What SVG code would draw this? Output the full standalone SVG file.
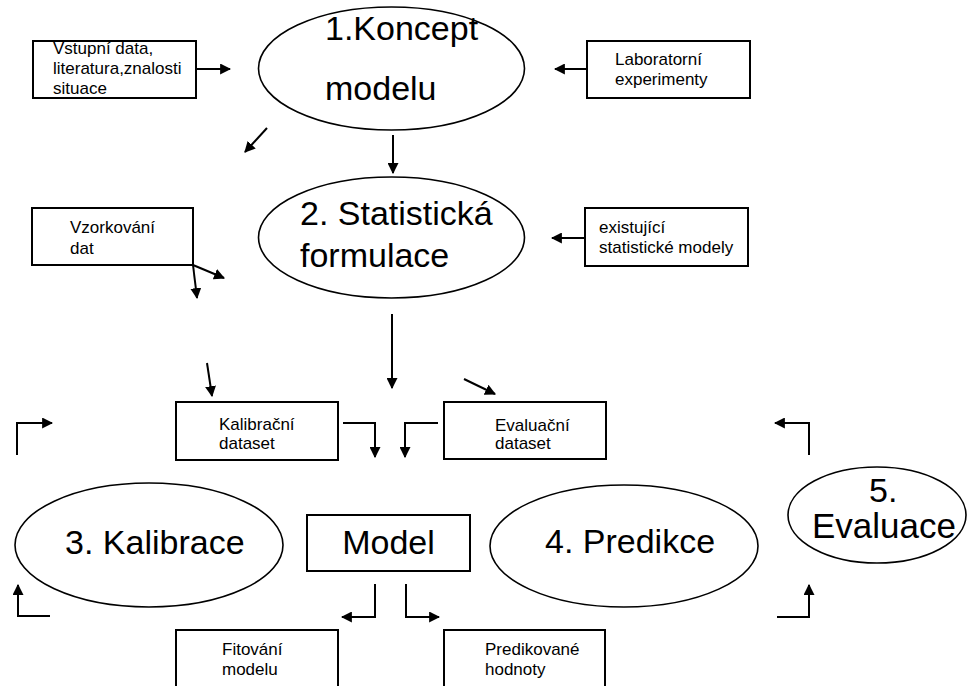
<svg xmlns="http://www.w3.org/2000/svg" width="967" height="686" viewBox="0 0 967 686">
<style>
.box{fill:#fff;stroke:#000;stroke-width:2}
.ell{fill:#fff;stroke:#000;stroke-width:1.6}
.sm{font-family:"Liberation Sans",Arial,sans-serif;font-size:17px;fill:#000}
.big{font-family:"Liberation Sans",Arial,sans-serif;font-size:34px;fill:#000}
.con path{fill:none;stroke:#000;stroke-width:2;marker-end:url(#ah)}
</style>
<defs>
<marker id="ah" viewBox="0 0 10 10" refX="9" refY="5" markerWidth="11" markerHeight="11" markerUnits="userSpaceOnUse" orient="auto">
<path d="M0,0 L10,5 L0,10 z" fill="#000"/>
</marker>
</defs>
<rect width="967" height="686" fill="#fff"/>
<g id="n_input"><rect class="box" x="33" y="41" width="163" height="57"/><text class="sm" x="53" y="54">Vstupní data,</text><text class="sm" x="53" y="74">literatura,znalosti</text><text class="sm" x="53" y="94">situace</text></g>
<g id="n_lab"><rect class="box" x="587" y="41" width="163" height="57"/><text class="sm" x="615" y="65">Laboratorní</text><text class="sm" x="615" y="85">experimenty</text></g>
<g id="n_concept"><ellipse class="ell" cx="391.5" cy="68.5" rx="133" ry="61.5"/><text class="big" x="325" y="40">1.Koncept</text><text class="big" x="325" y="100">modelu</text></g>
<g id="n_stat"><ellipse class="ell" cx="391.5" cy="237.5" rx="133" ry="60.5"/><text class="big" x="300" y="225">2. Statistická</text><text class="big" x="300" y="267">formulace</text></g>
<g id="n_sampling"><rect class="box" x="32" y="208" width="161" height="57"/><text class="sm" x="70" y="233">Vzorkování</text><text class="sm" x="70" y="254">dat</text></g>
<g id="n_existing"><rect class="box" x="585" y="208" width="163" height="58"/><text class="sm" x="599" y="233">existující</text><text class="sm" x="599" y="253">statistické modely</text></g>
<g id="n_calib_ds"><rect class="box" x="176" y="402" width="162" height="58"/><text class="sm" x="219" y="430">Kalibrační</text><text class="sm" x="219" y="449">dataset</text></g>
<g id="n_eval_ds"><rect class="box" x="444" y="402" width="162" height="57"/><text class="sm" x="495" y="431">Evaluační</text><text class="sm" x="495" y="449">dataset</text></g>
<g id="n_calib"><ellipse class="ell" cx="149" cy="545" rx="134" ry="62"/><text class="big" x="65" y="554">3. Kalibrace</text></g>
<g id="n_model"><rect class="box" x="307" y="515" width="163" height="56"/><text class="big" x="388.5" y="554" text-anchor="middle">Model</text></g>
<g id="n_pred"><ellipse class="ell" cx="624" cy="546" rx="134" ry="61"/><text class="big" x="545" y="553">4. Predikce</text></g>
<g id="n_eval"><ellipse class="ell" cx="877" cy="515" rx="89" ry="48"/><text class="big" x="869" y="502">5.</text><text class="big" x="812" y="538" style="font-size:35px">Evaluace</text></g>
<g id="n_fit"><rect class="box" x="176" y="630" width="162" height="70"/><text class="sm" x="222" y="655">Fitování</text><text class="sm" x="222" y="675">modelu</text></g>
<g id="n_predvals"><rect class="box" x="444" y="630" width="161" height="70"/><text class="sm" x="485" y="655">Predikované</text><text class="sm" x="485" y="675">hodnoty</text></g>
<g id="connectors" class="con">
<path d="M196,69 H230"/>
<path d="M587,69 H555"/>
<path d="M393,135 V173"/>
<path d="M267,128 L245,152"/>
<path d="M193,265 L197,298"/>
<path d="M193,265 L224,278"/>
<path d="M585,238 H552"/>
<path d="M392,314 V388"/>
<path d="M207,363 L212,396"/>
<path d="M464,379 L495,394"/>
<path d="M343,423 H375 V457"/>
<path d="M438,423 H405 V457"/>
<path d="M17,455 V423 H52"/>
<path d="M809,455 V423 H775"/>
<path d="M375,584 V617 H342"/>
<path d="M406,584 V617 H439"/>
<path d="M50,616 H18 V585"/>
<path d="M777,617 H809 V585"/>
</g>
</svg>
